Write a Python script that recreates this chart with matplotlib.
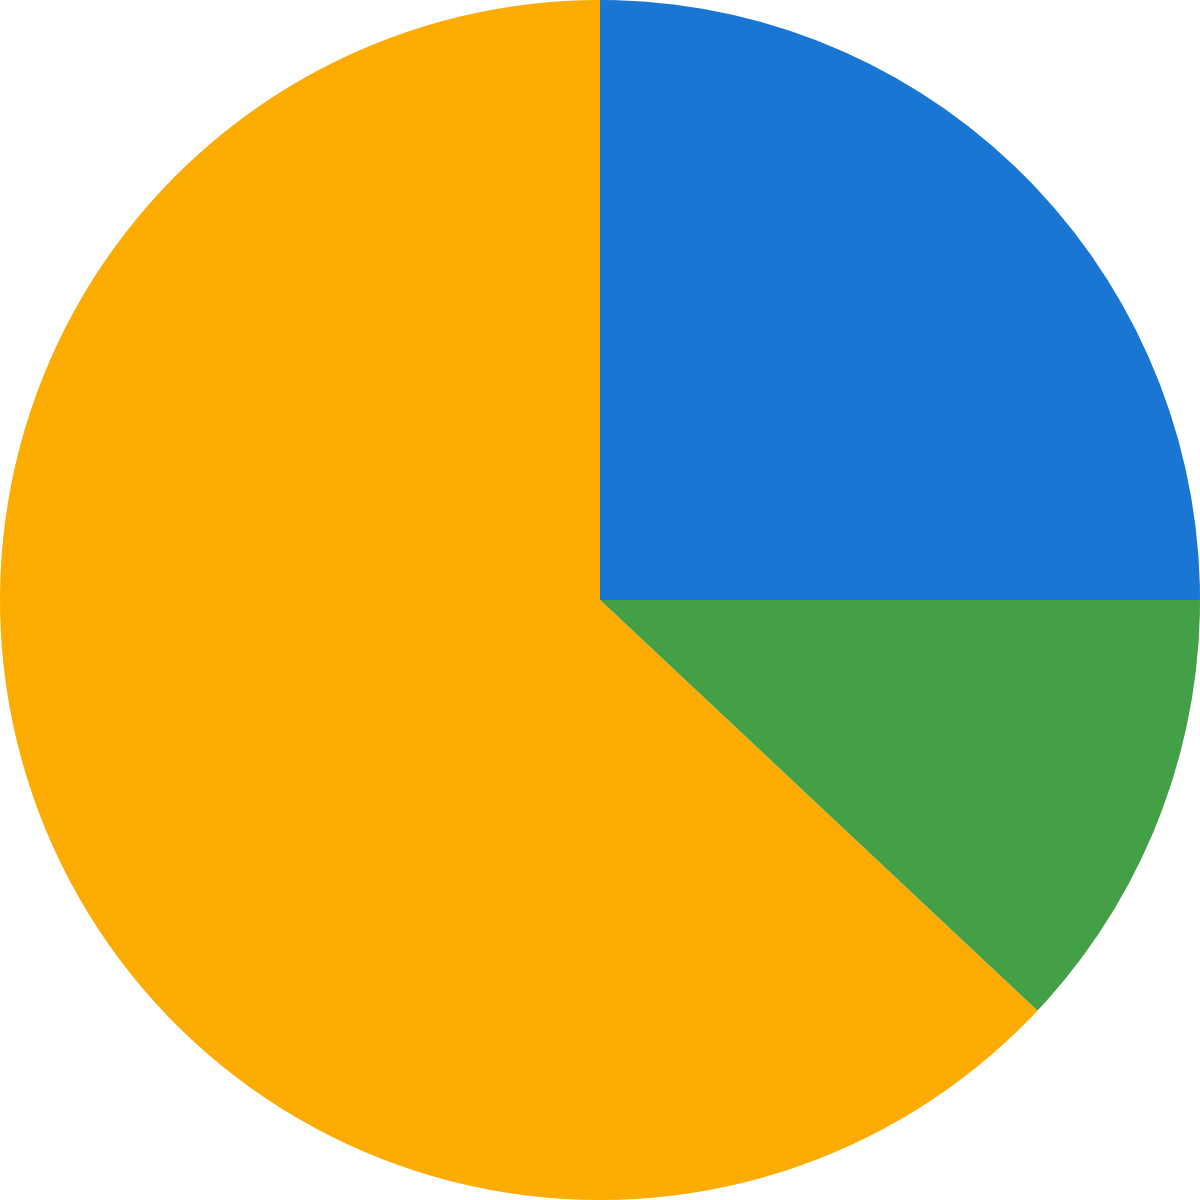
import matplotlib
matplotlib.use("Agg")
import matplotlib.pyplot as plt

# slice shares, clockwise from 12 o'clock
labels = ["Blue", "Green", "Orange"]
values = [25, 12, 63]
colors = ["#1976D2", "#43A047", "#FCAB00"]

fig = plt.figure(figsize=(12, 12), dpi=100)
ax = fig.add_axes([0, 0, 1, 1])
ax.pie(values, colors=colors, startangle=90, counterclock=False,
       radius=1.0, wedgeprops={"linewidth": 0, "antialiased": True})
ax.set_xlim(-1, 1)
ax.set_ylim(-1, 1)
ax.set_aspect("equal")
ax.axis("off")

fig.savefig("out.png", dpi=100, facecolor="white")
